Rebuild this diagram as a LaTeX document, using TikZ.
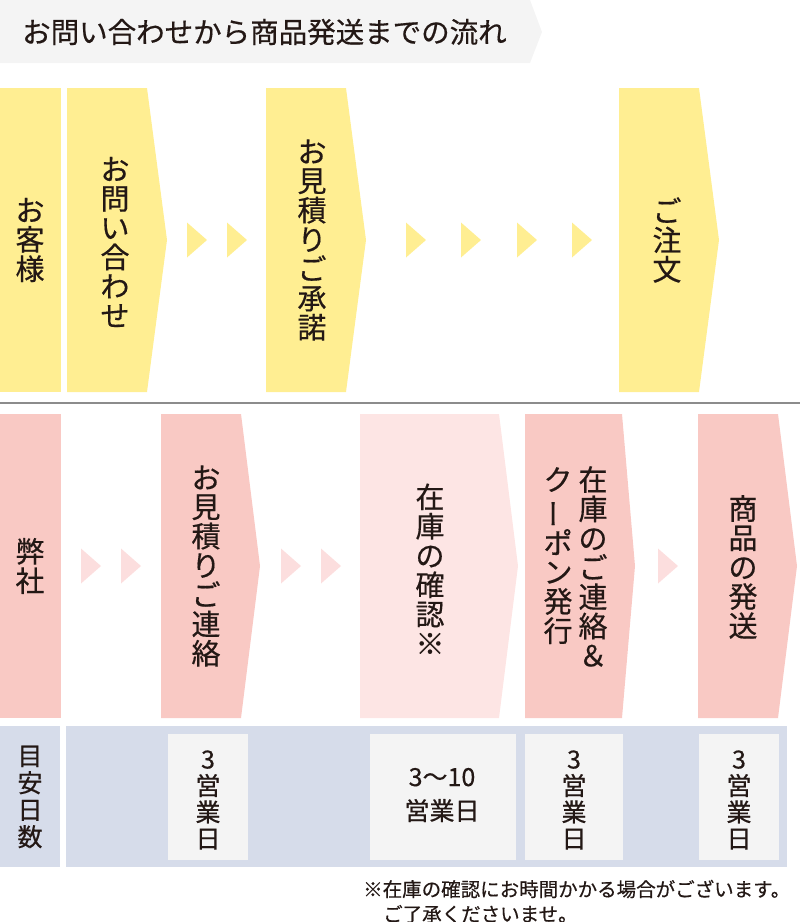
\documentclass[tikz,border=0pt]{standalone}
\usepackage{fontspec}
\setmainfont{Noto Sans CJK JP}[FakeBold=0.45]
\usepackage{graphicx}
\definecolor{ylw}{HTML}{FFEE92}
\definecolor{pnk}{HTML}{F9C9C4}
\definecolor{lpnk}{HTML}{FDE5E4}
\definecolor{tpnk}{HTML}{FCDEDE}
\definecolor{blu}{HTML}{D6DCEA}
\definecolor{lgry}{HTML}{F4F4F4}
\definecolor{ink}{HTML}{231815}
\definecolor{sepline}{HTML}{8C8C8C}
\newcommand{\vbar}{\rotatebox[origin=c]{90}{ー}}
\newcommand{\abox}[6]{\fill[#1] (#2,#5) -- (#3,#5) -- (#4,{(#5+#6)/2}) -- (#3,#6) -- (#2,#6) -- cycle;}
\newcommand{\tri}[3]{\fill[#1] (#2,{#3-17.5}) -- ({#2+20},#3) -- (#2,{#3+17.5}) -- cycle;}
\begin{document}
\begin{tikzpicture}[x=1pt,y=-1pt,
  vtxt/.style={align=center,inner sep=0pt,text=ink,font=\fontsize{29}{29.3}\selectfont},
  stxt/.style={align=center,inner sep=0pt,text=ink,font=\fontsize{25}{26.5}\selectfont},
  htxt/.style={inner sep=0pt,text=ink,anchor=west}]
\useasboundingbox (0,0) rectangle (800,922);
% title bar
\fill[lgry] (0,0) -- (530,0) -- (542,32) -- (530,63) -- (0,63) -- cycle;
\node[htxt,font=\fontsize{28.5}{30}\selectfont] (title) at (22,32) {お問い合わせから商品発送までの流れ};
% top row (customer)
\fill[ylw] (0,88) rectangle (61,392);
\abox{ylw}{67}{147}{167}{88}{392}
\abox{ylw}{266}{346}{366}{88}{392}
\abox{ylw}{619}{699}{719}{88}{392}
\tri{ylw}{187}{240}
\tri{ylw}{227}{240}
\tri{ylw}{406}{240}
\tri{ylw}{461}{240}
\tri{ylw}{517}{240}
\tri{ylw}{572}{240}
\node[vtxt] (cust) at (30,240) {お\\客\\様};
\node[vtxt] (inq) at (115,242) {お\\問\\い\\合\\わ\\せ};
\node[vtxt] (acc) at (312,240) {お\\見\\積\\り\\ご\\承\\諾};
\node[vtxt] (ord) at (667,240) {ご\\注\\文};
% separator
\draw[sepline,line width=1.4pt] (0,403) -- (800,403);
% bottom row (company)
\fill[pnk] (0,414) rectangle (61,718);
\abox{pnk}{161}{241}{260}{414}{718}
\abox{lpnk}{360}{499}{518}{414}{718}
\abox{pnk}{525}{622}{635}{414}{718}
\abox{pnk}{698}{778}{797}{414}{718}
\tri{tpnk}{81}{566}
\tri{tpnk}{121}{566}
\tri{tpnk}{281}{566}
\tri{tpnk}{321}{566}
\tri{tpnk}{658}{566}
\node[vtxt] (comp) at (30,566) {弊\\社};
\node[vtxt] (est) at (206,566) {お\\見\\積\\り\\ご\\連\\絡};
\node[vtxt] (stock) at (430,569) {在\\庫\\の\\確\\認\\※};
\node[vtxt,anchor=north] (notify) at (593,466) {在\\庫\\の\\ご\\連\\絡\\＆};
\node[vtxt,anchor=north] (coupon) at (558,467) {ク\\\vbar\\ポ\\ン\\発\\行};
\node[vtxt] (ship) at (743,567) {商\\品\\の\\発\\送};
% days row
\fill[blu] (0,726) rectangle (60,867);
\fill[blu] (66,726) rectangle (787,867);
\fill[lgry] (168,734) rectangle (248,860);
\fill[lgry] (370,734) rectangle (516,860);
\fill[lgry] (525,734) rectangle (623,860);
\fill[lgry] (699,734) rectangle (779,860);
\node[stxt,font=\fontsize{25}{27}\selectfont] (days) at (30,797) {目\\安\\日\\数};
\node[stxt] (d1) at (208,800) {3\\営\\業\\日};
\node[stxt,font=\fontsize{25}{34}\selectfont] (d2) at (442,795) {3～10\\営業日};
\node[stxt] (d3) at (574,800) {3\\営\\業\\日};
\node[stxt] (d4) at (739,800) {3\\営\\業\\日};
% footnote
\node[htxt,font=\fontsize{19.5}{21}\selectfont] (note1) at (363,889) {※在庫の確認にお時間かかる場合がございます。};
\node[htxt,font=\fontsize{19.5}{21}\selectfont] (note2) at (383,914) {ご了承くださいませ。};
\end{tikzpicture}
\end{document}
